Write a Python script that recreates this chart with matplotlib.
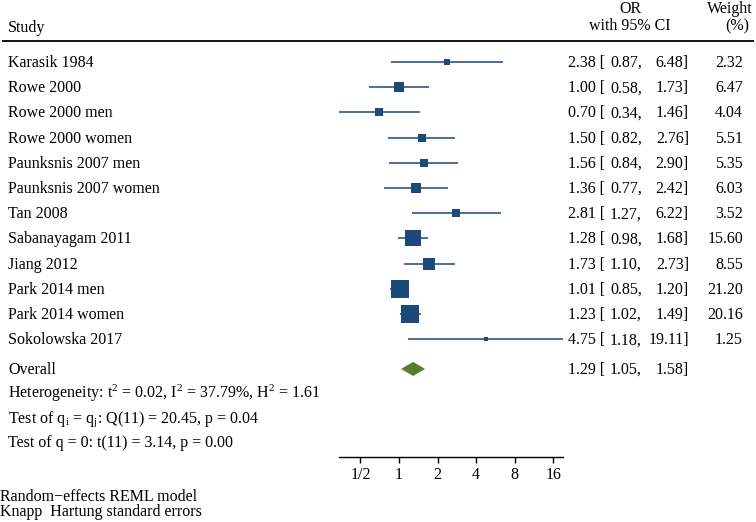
import matplotlib
matplotlib.use("Agg")
import matplotlib.pyplot as plt
from matplotlib.lines import Line2D
from matplotlib.patches import Polygon
import matplotlib.transforms as mtransforms
import numpy as np

plt.rcParams['font.family'] = ['Liberation Serif', 'DejaVu Serif']
plt.rcParams['mathtext.fontset'] = 'custom'
plt.rcParams['mathtext.rm'] = 'Liberation Serif'
plt.rcParams['mathtext.it'] = 'Liberation Serif:italic'

studies = ["Karasik 1984", "Rowe 2000", "Rowe 2000 men", "Rowe 2000 women",
           "Paunksnis 2007 men", "Paunksnis 2007 women", "Tan 2008",
           "Sabanayagam 2011", "Jiang 2012", "Park 2014 men", "Park 2014 women",
           "Sokolowska 2017"]
or_vals = [2.38, 1.00, 0.70, 1.50, 1.56, 1.36, 2.81, 1.28, 1.73, 1.01, 1.23, 4.75]
ci_lo = [0.87, 0.58, 0.34, 0.82, 0.84, 0.77, 1.27, 0.98, 1.10, 0.85, 1.02, 1.18]
ci_hi = [6.48, 1.73, 1.46, 2.76, 2.90, 2.42, 6.22, 1.68, 2.73, 1.20, 1.49, 19.11]
weights = [2.32, 6.47, 4.04, 5.51, 5.35, 6.03, 3.52, 15.60, 8.55, 21.20, 20.16, 1.25]
overall = (1.29, 1.05, 1.58)
tick_vals = [0.5, 1, 2, 4, 8, 16]
tick_labels = ["1/2", "1", "2", "4", "8", "16"]

W, H = 756, 522
fig = plt.figure(figsize=(W / 100, H / 100), dpi=100)

blue = '#1b4a7a'
green = '#5a7d2b'
fs = 11.5

x0, x1 = 339, 563
y_top, y_bot = 40, 457
ax = fig.add_axes([x0 / W, 1 - y_bot / H, (x1 - x0) / W, (y_bot - y_top) / H])
ax.set_xscale('log', base=2)
ax.set_xlim(min(ci_lo), max(ci_hi))
row_h = 25.2
ax.set_ylim((y_bot - 62) / row_h, (y_top - 62) / row_h)
ax.patch.set_visible(False)
for s in ['top', 'left', 'right']:
    ax.spines[s].set_visible(False)
ax.spines['bottom'].set_linewidth(1.0)
ax.set_yticks([])
ax.set_xticks(tick_vals)
ax.set_xticklabels(tick_labels, fontsize=fs)
ax.xaxis.set_minor_locator(matplotlib.ticker.NullLocator())
ax.tick_params(axis='x', direction='out', length=4, width=1, pad=3)

rows = np.arange(len(studies))
for i in rows:
    ax.plot([ci_lo[i], ci_hi[i]], [i, i], color=blue, lw=1.1, solid_capstyle='butt')
    side_px = 3.8 * np.sqrt(weights[i])
    ax.plot(or_vals[i], i, marker='s', ms=side_px * 0.72, color=blue, mec=blue, mew=0)

ov_row = 12.18
est, lo, hi = overall
dia = Polygon([[lo, ov_row], [est, ov_row - 0.26], [hi, ov_row], [est, ov_row + 0.26]],
              closed=True, facecolor=green, edgecolor=green, lw=0.5)
ax.add_patch(dia)

tr0 = mtransforms.blended_transform_factory(fig.transFigure, ax.transData)
tr = mtransforms.offset_copy(tr0, fig=fig, x=0, y=-5, units='dots')

def fx(px):
    return px / W

def rowtext(x, y, s, ha):
    fig.text(fx(x), y, s, transform=tr, fontsize=fs, va='baseline', ha=ha)

for i, name in enumerate(studies):
    rowtext(8, i, name, 'left')
    rowtext(605, i, f"{or_vals[i]:.2f} [", 'right')
    rowtext(642, i, f"{ci_lo[i]:.2f},", 'right')
    rowtext(689, i, f"{ci_hi[i]:.2f}]", 'right')
    rowtext(743, i, f"{weights[i]:.2f}", 'right')

rowtext(8, ov_row, "Overall", 'left')
rowtext(605, ov_row, f"{est:.2f} [", 'right')
rowtext(642, ov_row, f"{lo:.2f},", 'right')
rowtext(689, ov_row, f"{hi:.2f}]", 'right')

step = 24.5 / row_h
rowtext(8, ov_row + step, r"Heterogeneity: t$^2$ = 0.02, I$^2$ = 37.79%, H$^2$ = 1.61", 'left')
rowtext(8, ov_row + 2 * step, r"Test of q$_\mathrm{i}$ = q$_\mathrm{j}$: Q(11) = 20.45, p = 0.04", 'left')
rowtext(8, ov_row + 3 * step, "Test of q = 0: t(11) = 3.14, p = 0.00", 'left')

def fy(py):
    return 1 - py / H

fig.text(fx(8), fy(32), "Study", fontsize=fs, va='baseline', ha='left')
fig.text(fx(630), fy(13), "OR", fontsize=fs, va='baseline', ha='center')
fig.text(fx(630), fy(30), "with 95% CI", fontsize=fs, va='baseline', ha='center')
fig.text(fx(753), fy(13), "Weight", fontsize=fs, va='baseline', ha='right')
fig.text(fx(737), fy(30), "(%)", fontsize=fs, va='baseline', ha='center')
fig.add_artist(Line2D([fx(3), fx(753)], [fy(41), fy(41)], color='black', lw=1.3))

fig.text(fx(0), fy(501), "Random\u2212effects REML model", fontsize=fs, va='baseline', ha='left')
fig.text(fx(0), fy(516), "Knapp  Hartung standard errors", fontsize=fs, va='baseline', ha='left')

fig.savefig("out.png", dpi=100, facecolor='white')
